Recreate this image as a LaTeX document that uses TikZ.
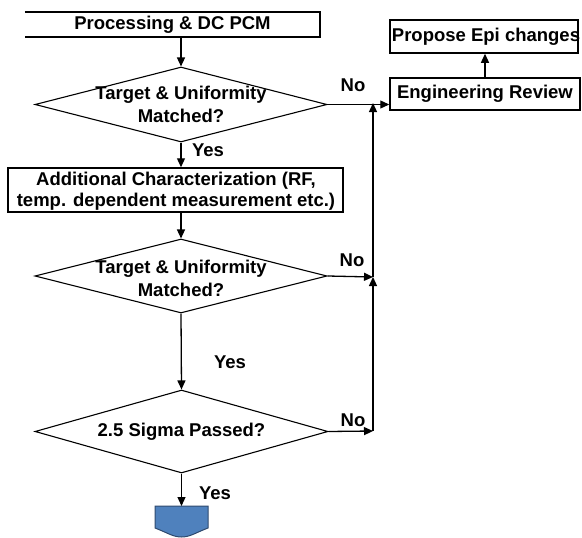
\documentclass[tikz,border=0pt]{standalone}
\usepackage{fontspec}
\setmainfont{Liberation Sans}
\usetikzlibrary{shapes.geometric,arrows.meta}
\definecolor{termfill}{HTML}{4F81BD}
\definecolor{termline}{HTML}{2F4A6E}
\begin{document}
\begin{tikzpicture}[x=1pt,y=-1pt,
  font=\fontsize{18.5}{23}\selectfont\bfseries,
  arr/.style={line width=1.3pt,-{Triangle[length=9pt,width=8pt]}},
  conn/.style={line width=1.3pt},
  boxnode/.style={rectangle,draw,line width=1.5pt,inner sep=0pt},
  dia/.style={diamond,draw,line width=1.1pt,inner sep=0pt},
  txt/.style={inner sep=0pt,align=center},
  lbl/.style={inner sep=0pt}]
\useasboundingbox (0,0) rectangle (582,538);
% top box (three sides)
\node[rectangle,inner sep=0pt,minimum width=295pt,minimum height=25pt] (proc) at (172.5,24.5) {Processing \& DC PCM};
\draw[line width=1.5pt] (proc.north west) -- (proc.north east) -- (proc.south east) -- (proc.south west);
% diamond 1
\node[dia,minimum width=292pt,minimum height=75pt] (d1) at (181,104.5) {};
\node[txt] (t1) at (181,104.5) {Target \& Uniformity\\[0pt]Matched?};
% box 2
\node[boxnode,minimum width=335pt,minimum height=44pt] (b2) at (175.5,190) {};
\node[txt,font=\fontsize{18.5}{20.5}\selectfont\bfseries] (t2) at (176,191) {Additional Characterization (RF,\\temp. dependent measurement etc.)};
% diamond 2
\node[dia,minimum width=292pt,minimum height=74pt] (d2) at (181,276) {};
\node[txt] (t3) at (181,278.5) {Target \& Uniformity\\Matched?};
% diamond 3
\node[dia,minimum width=293pt,minimum height=83pt] (d3) at (181.5,431.5) {};
\node[txt] (t4) at (181.5,432) {2.5 Sigma Passed?};
% terminator
\coordinate (term) at (181.5,506);
\draw[fill=termfill,draw=termline,line width=1pt] (155,506) -- (208,506) -- (208,528) .. controls (195,533) and (190,537) .. (181.5,537) .. controls (173,537) and (168,533) .. (155,528) -- cycle;
% right boxes
\node[boxnode,minimum width=190pt,minimum height=32pt] (er) at (485,94) {Engineering Review};
\node[boxnode,minimum width=188pt,minimum height=33pt] (pe) at (484,36.5) {};
\node[txt] (pet) at (486,36.5) {Propose Epi changes};
% junctions
\coordinate (j1) at (373,103);
\coordinate (j2) at (373,277);
\coordinate (j3) at (373,431);
% arrows
\draw[arr] (d1.north |- proc.south) -- (d1.north);
\draw[arr] (d1.south) -- (d1.south |- b2.north);
\draw[arr] (d2.north |- b2.south) -- (d2.north);
\draw[arr] (d2.south) -- (d3.north);
\draw[arr] (d3.south) -- (term);
\draw[arr] (d1.east) -- (d1.east -| er.west);
\draw[arr] (er.north) -- (er.north |- pe.south);
\draw[arr] (d2.east) -- (j2);
\draw[arr] (d3.east) -- (j3);
\draw[arr] (j3) -- (j2);
\draw[arr] (j2) -- (j1);
% labels
\node[lbl] (no1) at (353,85) {No};
\node[lbl] (no2) at (352,260) {No};
\node[lbl] (no3) at (353,420) {No};
\node[lbl] (y1) at (208,150) {Yes};
\node[lbl] (y2) at (230,362) {Yes};
\node[lbl] (y3) at (215,493) {Yes};
\end{tikzpicture}
\end{document}
